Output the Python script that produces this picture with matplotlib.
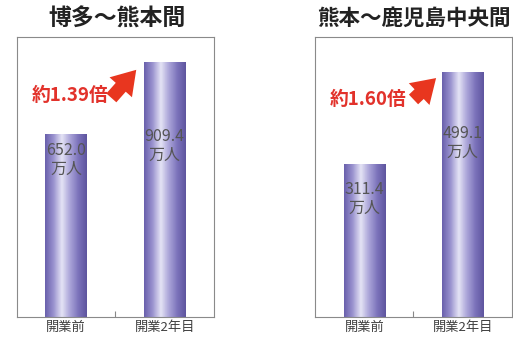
import numpy as np
import matplotlib
matplotlib.use("Agg")
import matplotlib.pyplot as plt
from matplotlib.colors import LinearSegmentedColormap

plt.rcParams['font.family'] = ['Noto Sans CJK JP', 'DejaVu Sans']

# data
titles = ["博多～熊本間", "熊本～鹿児島中央間"]
categories = ["開業前", "開業2年目"]
values_hakata = [652.0, 909.4]
values_kagoshima = [311.4, 499.1]
ratio_labels = ["約1.39倍", "約1.60倍"]
unit = "万人"

panels = [values_hakata, values_kagoshima]
ylims = [1000, 570]
label_frac = [[0.86, 0.67], [0.77, 0.71]]

bar_cmap = LinearSegmentedColormap.from_list(
    "cyl", ["#6a61ad", "#9a93cf", "#e4e3f5", "#aaa4d8", "#7c73bb", "#5f569f"])

fig = plt.figure(figsize=(5.13, 3.39), dpi=100)
axes = [fig.add_axes([0.033, 0.065, 0.384, 0.826]),
        fig.add_axes([0.614, 0.065, 0.384, 0.826])]

grad = np.linspace(0, 1, 64).reshape(1, -1)
x = np.arange(len(categories))

# arrow tail/head in axes fraction
arrows = [((0.47, 0.775), (0.615, 0.89)), ((0.49, 0.77), (0.625, 0.86))]

for i, (ax, vals) in enumerate(zip(axes, panels)):
    ax.set_xlim(-0.5, 1.5)
    ax.set_ylim(0, ylims[i])
    bars = ax.bar(x, vals, width=0.42, color='none', edgecolor='none')
    for b in bars:
        x0, w, h = b.get_x(), b.get_width(), b.get_height()
        im = ax.imshow(grad, cmap=bar_cmap, aspect='auto',
                       extent=(x0, x0 + w, 0, h), zorder=2)
        im.set_clip_path(b)
    for j, v in enumerate(vals):
        ax.text(x[j], v * label_frac[i][j], f"{v:.1f}\n{unit}",
                ha='center', va='center', fontsize=11.5, color='#555555',
                linespacing=1.15, zorder=4)

    # ratio arrow and text
    tail, head = arrows[i]
    ax.annotate("", xy=head, xytext=tail, xycoords='axes fraction',
                arrowprops=dict(arrowstyle="simple,head_width=1.8,head_length=1.4,tail_width=0.8",
                                color='#e8361f', lw=0, mutation_scale=12), zorder=5)
    ty = 0.79 if i == 0 else 0.775
    ax.text(0.27, ty, ratio_labels[i], transform=ax.transAxes,
            ha='center', va='center', fontsize=13.5, fontweight='bold',
            color='#e2322b', zorder=6)

    ax.set_xticks(x)
    ax.set_xticklabels(categories, fontsize=9.5, color='#404040')
    ax.tick_params(axis='x', length=0, pad=3)
    ax.set_xticks([0.5], minor=True)
    ax.tick_params(axis='x', which='minor', direction='in', length=4,
                   color='#888888', width=0.8)
    ax.set_yticks([])
    for s in ax.spines.values():
        s.set_color('#8a8a8a')
        s.set_linewidth(0.8)

fig.text(0.228, 0.945, titles[0], ha='center', va='center',
         fontsize=16.5, fontweight='bold', color='#222222')
fig.text(0.618, 0.945, titles[1], ha='left', va='center',
         fontsize=15.5, fontweight='bold', color='#222222')

fig.savefig("out.png", dpi=100)
